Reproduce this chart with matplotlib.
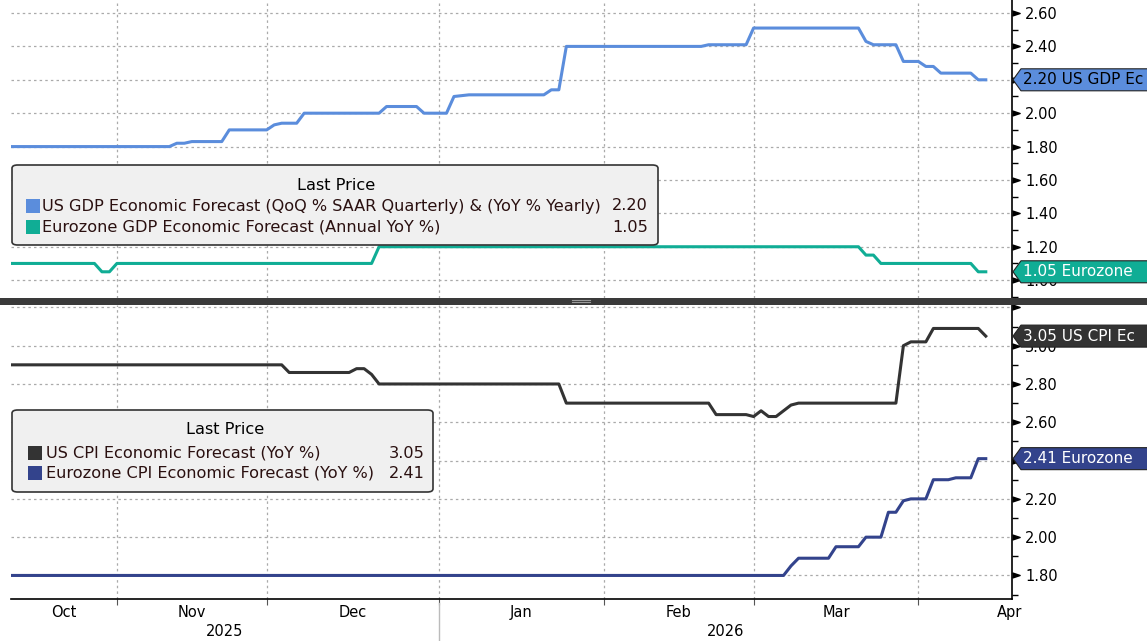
import numpy as np
import matplotlib
matplotlib.use("Agg")
import matplotlib.pyplot as plt
from matplotlib.patches import Polygon, FancyBboxPatch, Rectangle
from matplotlib.lines import Line2D
from matplotlib.ticker import MultipleLocator, FixedLocator, FuncFormatter, NullFormatter
from matplotlib.transforms import blended_transform_factory

W, H = 1147, 641
START = "2025-10-01"  # x values are business days counted from this date

# US GDP forecast (business day, value)
us_gdp_x = [8, 30, 31, 32, 33, 37, 38, 43, 44, 45, 47, 48, 58, 59, 63, 64, 67, 68, 70, 80,
            81, 82, 83, 101, 102, 107, 108, 122, 123, 124, 127, 128, 130, 131, 132, 133, 137, 138, 139]
us_gdp_y = [1.80, 1.80, 1.82, 1.82, 1.83, 1.83, 1.90, 1.90, 1.93, 1.94, 1.94, 2.00, 2.00, 2.04, 2.04, 2.00, 2.00, 2.10, 2.11, 2.11,
            2.14, 2.14, 2.40, 2.40, 2.41, 2.41, 2.51, 2.51, 2.43, 2.41, 2.41, 2.31, 2.31, 2.28, 2.28, 2.24, 2.24, 2.20, 2.20]

# Eurozone GDP forecast
ez_gdp_x = [8, 20, 21, 22, 23, 57, 58, 122, 123, 124, 125, 137, 138, 139]
ez_gdp_y = [1.10, 1.10, 1.05, 1.05, 1.10, 1.10, 1.20, 1.20, 1.15, 1.15, 1.10, 1.10, 1.05, 1.05]

# US CPI forecast
us_cpi_x = [8, 45, 46, 54, 55, 56, 57, 58, 82, 83, 102, 103, 107, 108, 109, 110, 111, 112, 113, 114,
            127, 128, 129, 131, 132, 138, 139]
us_cpi_y = [2.90, 2.90, 2.86, 2.86, 2.88, 2.88, 2.85, 2.80, 2.80, 2.70, 2.70, 2.64, 2.64, 2.63, 2.66, 2.63, 2.63, 2.66, 2.69, 2.70,
            2.70, 3.00, 3.02, 3.02, 3.09, 3.09, 3.05]

# Eurozone CPI forecast
ez_cpi_x = [8, 112, 113, 114, 118, 119, 122, 123, 125, 126, 127, 128, 129, 131, 132, 134, 135, 137, 138, 139]
ez_cpi_y = [1.80, 1.80, 1.85, 1.89, 1.89, 1.95, 1.95, 2.00, 2.00, 2.13, 2.13, 2.19, 2.20, 2.20, 2.30, 2.30, 2.31, 2.31, 2.41, 2.41]

month_starts = ["2025-10-01", "2025-11-01", "2025-12-01", "2026-01-01", "2026-02-01",
                "2026-03-01", "2026-04-01", "2026-05-01"]
month_names = ["Oct", "Nov", "Dec", "Jan", "Feb", "Mar", "Apr"]
years = ["2025", "2026"]

c_us_gdp = "#5b8ddc"
c_ez_gdp = "#10ad95"
c_us_cpi = "#333333"
c_ez_cpi = "#33438c"

XMIN, XMAX = 8.86, 142.5

def fx(px):
    return px / W

def fy(py):
    return 1 - py / H

fig = plt.figure(figsize=(W / 100, H / 100), dpi=100)
ax1 = fig.add_axes([fx(11), fy(297.5), fx(1012) - fx(11), fy(0) - fy(297.5)])
ax2 = fig.add_axes([fx(11), fy(599), fx(1012) - fx(11), fy(305) - fy(599)])

bounds = np.busday_count(START, month_starts)
grid_kw = dict(color="#aaaaaa", linestyle=(0, (2, 2.5)), linewidth=0.9)
tri = [(0, -1), (3, 0), (0, 1)]

def style(ax, ylo, yhi, ticks, hide):
    ax.set_xlim(XMIN, XMAX)
    ax.set_ylim(ylo, yhi)
    for s in ["top", "left"]:
        ax.spines[s].set_visible(False)
    ax.spines["right"].set_linewidth(1.2)
    ax.yaxis.tick_right()
    ax.yaxis.set_major_locator(FixedLocator(ticks))
    ax.yaxis.set_minor_locator(MultipleLocator(0.1))
    ax.yaxis.set_major_formatter(FuncFormatter(lambda v, p: "" if round(v, 2) in hide else f"{v:.2f}"))
    ax.tick_params(axis="y", which="major", length=0, pad=9.5, labelsize=10.5)
    ax.tick_params(axis="y", which="minor", length=4, width=1, color="black")
    ax.xaxis.set_major_locator(FixedLocator(bounds[1:-1]))
    ax.grid(True, which="major", **grid_kw)
    tr = blended_transform_factory(ax.transAxes, ax.transData)
    ax.plot([1.0] * len(ticks), ticks, linestyle="none", marker=tri, markersize=11,
            color="black", transform=tr, clip_on=False, zorder=5)

# top panel (2.20 label sits under the value tag)
ax1.plot(us_gdp_x, us_gdp_y, color=c_us_gdp, lw=2.2, zorder=3)
ax1.plot(ez_gdp_x, ez_gdp_y, color=c_ez_gdp, lw=2.2, zorder=3)
style(ax1, 0.896, 2.678, list(np.round(np.arange(1.0, 2.61, 0.2), 2)), [2.2])
ax1.spines["bottom"].set_visible(False)
ax1.tick_params(axis="x", length=0, labelbottom=False)

# bottom panel (2.40 label sits under the value tag)
ax2.plot(us_cpi_x, us_cpi_y, color=c_us_cpi, lw=2.2, zorder=3)
ax2.plot(ez_cpi_x, ez_cpi_y, color=c_ez_cpi, lw=2.2, zorder=3)
style(ax2, 1.677, 3.2125, list(np.round(np.arange(1.8, 3.21, 0.2), 2)), [3.2, 2.4])
ax2.spines["bottom"].set_linewidth(1.2)
ax2.xaxis.set_major_formatter(NullFormatter())
ax2.tick_params(axis="x", which="major", length=4, color="#555555")
mids = []
for i in range(len(month_names)):
    lo = max(bounds[i], XMIN)
    mids.append((lo + bounds[i + 1]) / 2)
mids[-1] += 1.2
ax2.xaxis.set_minor_locator(FixedLocator(mids))
ax2.set_xticklabels(month_names, minor=True)
ax2.tick_params(axis="x", which="minor", length=0, pad=4.5, labelsize=10.5)

# year labels and separator
jan = bounds[3]
trx = blended_transform_factory(ax2.transData, fig.transFigure)
ax2.text((XMIN + jan) / 2, fy(632), years[0], transform=trx, ha="center", va="center", fontsize=10.5)
ax2.text((jan + XMAX) / 2, fy(632), years[1], transform=trx, ha="center", va="center", fontsize=10.5)
ax2.add_line(Line2D([jan, jan], [fy(603), fy(641)], transform=trx, color="#bbbbbb", lw=1, clip_on=False))

# separator bar between the panels
fig.patches.append(Rectangle((0, fy(305)), 1, fy(297.5) - fy(305), transform=fig.transFigure,
                             facecolor="#3a3a3a", edgecolor="none", zorder=4))
for yy in (300.3, 302.3):
    fig.lines.append(Line2D([fx(572), fx(590)], [fy(yy), fy(yy)], transform=fig.transFigure,
                            color="#9a9a9a", lw=0.8, zorder=5))

# legends
LFS = 11.6

def legend_box(x0, y0, x1, y1, title_x, rows, val_x, sq_x, txt_x):
    fig.patches.append(FancyBboxPatch((fx(x0), fy(y1)), fx(x1) - fx(x0), fy(y0) - fy(y1),
                                      boxstyle="round,pad=0,rounding_size=0.005", transform=fig.transFigure,
                                      facecolor="#f0f0f0", edgecolor="#333333", lw=1.2, zorder=6))
    fig.text(fx(title_x), fy(y0 + 20), "Last Price", ha="center", va="center", fontsize=LFS, zorder=7)
    for ry, color, label, val in rows:
        fig.patches.append(Rectangle((fx(sq_x), fy(ry + 7)), fx(14), fy(0) - fy(14), transform=fig.transFigure,
                                     facecolor=color, edgecolor="none", zorder=7))
        fig.text(fx(txt_x), fy(ry), label, ha="left", va="center", fontsize=LFS, color="#2a1010", zorder=7)
        fig.text(fx(val_x), fy(ry), val, ha="right", va="center", fontsize=LFS, color="#2a1010", zorder=7)

legend_box(12, 165, 658, 245, 336,
           [(206, c_us_gdp, "US GDP Economic Forecast (QoQ % SAAR Quarterly) & (YoY % Yearly)", f"{us_gdp_y[-1]:.2f}"),
            (227, c_ez_gdp, "Eurozone GDP Economic Forecast (Annual YoY %)", f"{ez_gdp_y[-1]:.2f}")],
           648, 26, 42)
legend_box(12, 410, 433, 492, 225,
           [(453, c_us_cpi, "US CPI Economic Forecast (YoY %)", f"{us_cpi_y[-1]:.2f}"),
            (473, c_ez_cpi, "Eurozone CPI Economic Forecast (YoY %)", f"{ez_cpi_y[-1]:.2f}")],
           425, 28, 46)

# last value tags on the right axis
def tag(ax, v, text, fc, tc):
    yd = ax.transData.transform((0, v))[1] / H
    h = 11 / H
    x0 = fx(1013)
    pts = [(x0, yd), (x0 + fx(8), yd + h), (1.01, yd + h), (1.01, yd - h), (x0 + fx(8), yd - h)]
    fig.patches.append(Polygon(pts, closed=True, transform=fig.transFigure, facecolor=fc,
                               edgecolor="#222222", lw=0.8, zorder=8))
    fig.text(fx(1023), yd, text, ha="left", va="center", fontsize=11, color=tc, zorder=9)

tag(ax1, us_gdp_y[-1], f"{us_gdp_y[-1]:.2f} US GDP Ec", c_us_gdp, "black")
tag(ax1, ez_gdp_y[-1], f"{ez_gdp_y[-1]:.2f} Eurozone", c_ez_gdp, "white")
tag(ax2, us_cpi_y[-1], f"{us_cpi_y[-1]:.2f} US CPI Ec", c_us_cpi, "white")
tag(ax2, ez_cpi_y[-1], f"{ez_cpi_y[-1]:.2f} Eurozone", c_ez_cpi, "white")

fig.savefig("out.png", dpi=100)
